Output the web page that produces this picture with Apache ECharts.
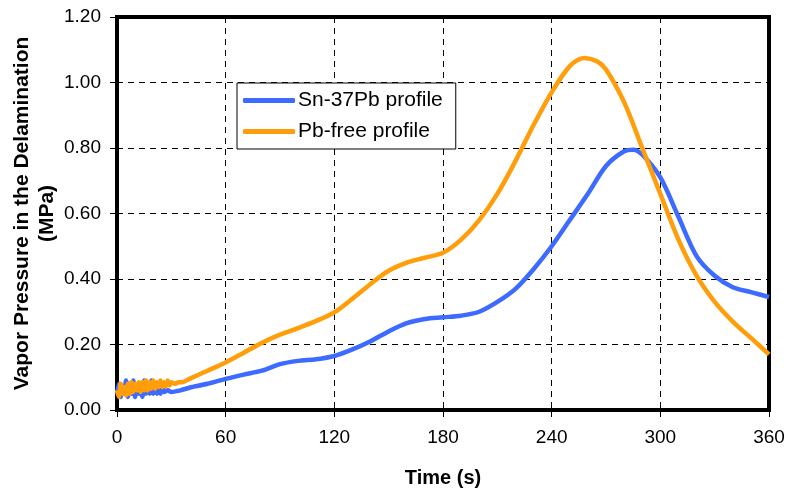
<!DOCTYPE html>
<html><head><meta charset="utf-8">
<script src="https://cdn.jsdelivr.net/npm/echarts@6/dist/echarts.min.js"></script>
<style>html,body{margin:0;padding:0;background:#fff}#c{width:788px;height:491px}</style>
</head><body><div id="c"></div>
<script>
const xTicks = [0, 60, 120, 180, 240, 300, 360];
const yTicks = ['0.00','0.20','0.40','0.60','0.80','1.00','1.20'];
const seriesNames = ['Sn-37Pb profile', 'Pb-free profile'];

const snTime = [0,1,2,3,4,5,6,7,8,9,10,11,12,13,14,15,16,17,18,19,20,21,22,23,24,25,26,28,30,35,40,50,60,70,80,90,100,110,120,130,140,150,160,170,180,190,200,210,220,230,240,250,260,270,280,285,290,300,310,320,330,340,350,360];
const snVal  = [0.05,0.08,0.04,0.07,0.05,0.09,0.04,0.08,0.05,0.09,0.04,0.07,0.05,0.08,0.04,0.09,0.05,0.07,0.05,0.09,0.05,0.07,0.05,0.08,0.05,0.07,0.055,0.06,0.055,0.06,0.068,0.08,0.095,0.108,0.12,0.14,0.15,0.155,0.165,0.185,0.21,0.24,0.265,0.278,0.283,0.288,0.30,0.33,0.37,0.43,0.50,0.58,0.66,0.745,0.79,0.795,0.78,0.71,0.59,0.47,0.41,0.375,0.36,0.345];

const pbTime = [0,1,2,3,4,5,6,7,8,9,10,11,12,13,14,15,16,17,18,19,20,21,22,23,24,25,26,27,28,29,30,32,34,36,40,50,60,70,80,90,100,110,120,130,140,150,160,170,180,190,200,210,220,230,240,250,258,265,270,280,290,300,310,320,330,340,350,360];
const pbVal  = [0.06,0.04,0.08,0.05,0.07,0.045,0.08,0.05,0.085,0.055,0.08,0.06,0.085,0.055,0.085,0.06,0.09,0.06,0.085,0.065,0.09,0.065,0.085,0.07,0.09,0.07,0.085,0.072,0.09,0.075,0.085,0.08,0.085,0.085,0.095,0.12,0.145,0.175,0.205,0.23,0.25,0.272,0.298,0.34,0.385,0.425,0.45,0.465,0.48,0.52,0.58,0.66,0.76,0.87,0.97,1.05,1.075,1.065,1.04,0.94,0.80,0.66,0.52,0.41,0.33,0.27,0.22,0.17];

function pairs(xs, ys){ return xs.map((x,i)=>[x, ys[i]]); }

const chart = echarts.init(document.getElementById('c'));
const F = 'Arial, "Liberation Sans", sans-serif';
chart.setOption({
  animation: false,
  grid: {left: 117, right: 19, top: 17, bottom: 81, outerBoundsMode: 'none', containLabel: false,
         show: true, borderColor: '#000', borderWidth: 4, backgroundColor: 'transparent'},
  legend: {
    left: 237, top: 83, orient: 'vertical', itemWidth: 52, itemHeight: 5, itemGap: 10,
    padding: [7, 13, 7, 6],
    borderColor: '#000', borderWidth: 1, backgroundColor: '#fff',
    textStyle: {fontFamily: F, fontSize: 21, color: '#000', padding: [0, 0, 0, -2]},
    data: seriesNames.map(n => ({name: n, icon: 'roundRect'}))
  },
  xAxis: {
    type: 'value', min: 0, max: 360, interval: 60,
    name: 'Time (s)', nameLocation: 'middle', nameGap: 58, nameMoveOverlap: false,
    nameTextStyle: {fontFamily: F, fontSize: 20, fontWeight: 'bold', color: '#000'},
    axisLine: {show: true, lineStyle: {color: '#000', width: 4}},
    axisTick: {show: true, length: 7, lineStyle: {color: '#000', width: 1}},
    axisLabel: {fontFamily: F, fontSize: 19, color: '#000', margin: 18, formatter: v => xTicks.includes(v) ? String(v) : ''},
    splitLine: {show: true, lineStyle: {color: '#000', type: [6, 5], width: 1}}
  },
  yAxis: {
    type: 'value', min: 0, max: 1.2, interval: 0.2,
    name: 'Vapor Pressure in the Delamination\n(MPa)', nameLocation: 'middle', nameGap: 57, nameMoveOverlap: false,
    nameTextStyle: {fontFamily: F, fontSize: 21, fontWeight: 'bold', color: '#000', lineHeight: 25},
    axisLine: {show: true, lineStyle: {color: '#000', width: 4}},
    axisTick: {show: true, length: 7, lineStyle: {color: '#000', width: 1}},
    axisLabel: {fontFamily: F, fontSize: 19, color: '#000', margin: 16, formatter: v => yTicks[Math.round(v/0.2)]},
    splitLine: {show: true, lineStyle: {color: '#000', type: [6, 5], width: 1}}
  },
  series: [
    {name: seriesNames[0], type: 'line', data: pairs(snTime, snVal), showSymbol: false, smooth: 0.3,
     lineStyle: {color: '#3d6bff', width: 4.5}, itemStyle: {color: '#3d6bff'}, z: 3},
    {name: seriesNames[1], type: 'line', data: pairs(pbTime, pbVal), showSymbol: false, smooth: 0.3,
     lineStyle: {color: '#ff9e0a', width: 4.5}, itemStyle: {color: '#ff9e0a'}, z: 4}
  ]
});
</script></body></html>
